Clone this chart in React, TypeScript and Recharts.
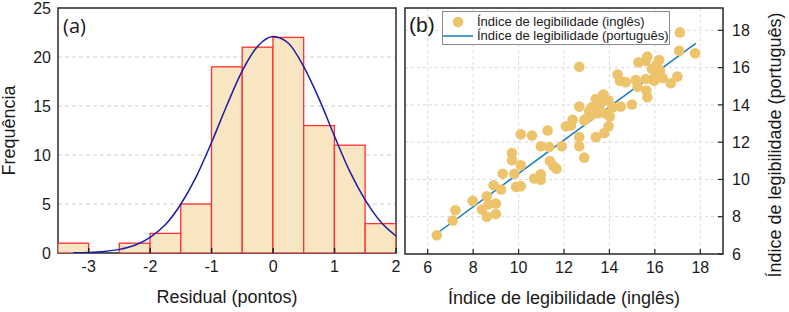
import React from 'react';
import {
  ComposedChart, Bar, Line, XAxis, YAxis, CartesianGrid, ReferenceArea, Scatter, Legend, Label,
} from 'recharts';

// ---------- Panel (a): histogram of residuals ----------
const binCenters = [-3.25, -2.75, -2.25, -1.75, -1.25, -0.75, -0.25, 0.25, 0.75, 1.25, 1.75];
const binCounts = [1, 0, 1, 2, 5, 19, 21, 22, 13, 11, 3];
const curveX = [-3.25, -3, -2.75, -2.5, -2.25, -2, -1.75, -1.5, -1.25, -1, -0.75, -0.5, -0.25, 0, 0.25, 0.5, 0.75, 1, 1.25, 1.5, 1.75, 2];
const curveY = [0.03, 0.06, 0.16, 0.37, 0.79, 1.6, 2.9, 5.0, 7.8, 11.3, 15.1, 18.6, 21.1, 22.1, 21.4, 19.0, 15.7, 11.9, 8.3, 5.4, 3.2, 1.75];
const histXTicks = [-3, -2, -1, 0, 1, 2];
const histYTicks = [0, 5, 10, 15, 20, 25];

// ---------- Panel (b): scatter of readability indices ----------
const engIndex = [
  6.4, 7.1, 7.22, 7.98, 8.39, 8.6, 8.6, 8.68, 9.0, 9.0, 8.9, 9.23, 9.3, 9.71, 9.71, 9.81, 9.89, 10.1, 10.1, 10.1,
  10.59, 10.69, 10.98, 10.98, 10.98, 11.28, 11.35, 11.38, 11.53, 11.67, 11.9, 12.08, 12.38, 12.3, 12.67, 12.67, 12.67, 12.67, 12.89, 12.89,
  13.11, 13.18, 13.4, 13.4, 13.52, 13.73, 13.77, 13.77, 13.85, 13.96, 14.02, 14.14, 14.36, 14.46, 14.5, 14.72, 14.99, 15.16, 15.28, 15.24,
  15.6, 15.6, 15.63, 15.67, 15.67, 15.87, 15.97, 16.19, 16.22, 16.34, 16.7, 16.99, 17.1, 17.07, 17.77, 16.08, 16.04, 13.56, 13.96, 13.23, 12.96,
];
const ptIndex = [
  7.0, 7.8, 8.35, 8.85, 8.39, 9.1, 8.0, 8.67, 8.71, 8.14, 9.69, 9.46, 10.31, 11.42, 11.03, 10.31, 9.6, 9.64, 10.76, 12.42,
  12.36, 10.05, 10.28, 9.99, 11.78, 12.63, 11.74, 10.99, 10.72, 10.58, 11.78, 12.85, 13.2, 12.9, 16.05, 13.91, 12.27, 11.78, 11.17, 13.17,
  13.67, 13.43, 14.32, 12.27, 13.56, 14.56, 14.24, 12.49, 13.52, 12.85, 13.38, 13.88, 15.63, 15.3, 13.91, 15.22, 14.02, 15.34, 16.29, 14.98,
  16.37, 15.39, 14.77, 14.41, 16.59, 15.93, 15.3, 16.41, 15.84, 15.45, 15.16, 15.52, 17.89, 16.91, 16.77, 16.16, 15.57, 13.91, 14.24, 13.88, 13.25,
];
const fitX = [6.4, 17.8];
const fitY = [7.1, 17.3];
const scatXTicks = [6, 8, 10, 12, 14, 16, 18];
const scatYTicks = [6, 8, 10, 12, 14, 16, 18];
const legendLabels = ['Índice de legibilidade (inglês)', 'Índice de legibilidade (português)'];

const histData = binCenters.map((x, i) => ({ x, count: binCounts[i] }));
const curveData = curveX.map((x, i) => ({ x, y: curveY[i] }));
const scatterData = engIndex.map((x, i) => ({ x, y: ptIndex[i] }));
const fitData = fitX.map((x, i) => ({ x, y: fitY[i] }));

const FONT = "'Liberation Sans', Arial, sans-serif";
const tickStyle = { fontSize: 16, fill: '#1a1a1a', fontFamily: FONT };
const SCAT = '#EDC46B';
const FITC = '#1A7DC0';

const HIST_W = 410;
const HIST_MARGIN = { top: 8, right: 14, bottom: 0, left: 8 };
const HIST_YAXIS_W = 50;
const BIN_PX = (HIST_W - HIST_MARGIN.right - HIST_MARGIN.left - HIST_YAXIS_W) / 5.5 * 0.5;

const VTitle = (text: string, dxFrom: 'left' | 'right', off: number, dy: number) => (props: any) => {
  const vb = props.viewBox;
  const cx = dxFrom === 'left' ? vb.x + off : vb.x + vb.width - off;
  const cy = vb.y + vb.height / 2 + dy;
  return (
    <text x={cx} y={cy} transform={`rotate(-90, ${cx}, ${cy})`} textAnchor="middle" dominantBaseline="central"
      style={{ fontSize: 18, fontFamily: FONT, fill: '#1a1a1a' }}>{text}</text>
  );
};
const HTitle = (text: string, cyAbs: number) => (props: any) => {
  const vb = props.viewBox;
  const cx = vb.x + vb.width / 2;
  return (
    <text x={cx} y={cyAbs} textAnchor="middle" dominantBaseline="central"
      style={{ fontSize: 18, fontFamily: FONT, fill: '#1a1a1a' }}>{text}</text>
  );
};

const BinShape = (p: any) => {
  if (!p.height || p.height <= 0) return <g />;
  const cx = p.x + p.width / 2;
  return (
    <rect x={cx - BIN_PX / 2} y={p.y} width={BIN_PX} height={p.height}
      fill="#F8E5C2" stroke="#FF3030" strokeWidth={1.3} />
  );
};

const renderLegend = () => (
  <div style={{ width: 228, height: 34, border: '1px solid #8c8c8c', background: '#fff', boxSizing: 'border-box', position: 'relative', fontFamily: FONT, fontSize: 13, color: '#1a1a1a' }}>
    <svg width={34} height={32} style={{ position: 'absolute', left: 0, top: 0 }}>
      <circle cx={15} cy={10} r={5.3} fill={SCAT} />
      <line x1={0} x2={30} y1={24} y2={24} stroke={FITC} strokeWidth={1.5} />
    </svg>
    <div style={{ position: 'absolute', left: 34, top: 2, lineHeight: '15px', whiteSpace: 'nowrap' }}>{legendLabels[0]}</div>
    <div style={{ position: 'absolute', left: 34, top: 16, lineHeight: '15px', whiteSpace: 'nowrap' }}>{legendLabels[1]}</div>
  </div>
);

export default function App() {
  return (
    <div style={{ position: 'fixed', left: 0, top: 0, width: 789, height: 312, background: '#fff', overflow: 'hidden' }}>
      <div style={{ position: 'absolute', left: 0, top: 0 }}>
        <ComposedChart width={HIST_W} height={312} data={histData} margin={HIST_MARGIN}>
          <CartesianGrid vertical={false} stroke="#cfcfcf" strokeDasharray="4 3" />
          <Bar dataKey="count" fill="#F8E5C2" stroke="#FF3030" shape={BinShape} isAnimationActive={false} />
          <Line data={curveData} dataKey="y" type="monotone" dot={false} stroke="#1C1CA8" strokeWidth={1.5} isAnimationActive={false} />
          <XAxis dataKey="x" type="number" domain={[-3.5, 2]} ticks={histXTicks} allowDataOverflow interval={0}
            height={59} tickSize={-5} tickMargin={13} axisLine={false} tickLine={{ stroke: '#222', strokeWidth: 1.5 }} tick={tickStyle}>
            <Label content={HTitle('Residual (pontos)', 297)} />
          </XAxis>
          <YAxis type="number" domain={[0, 25]} ticks={histYTicks} allowDataOverflow interval={0}
            width={HIST_YAXIS_W} tickSize={0} tickMargin={7} axisLine={false} tickLine={false} tick={tickStyle}>
            <Label content={VTitle('Frequência', 'left', 1, 0)} />
          </YAxis>
          <ReferenceArea x1={-3.5} x2={2} y1={0} y2={25} fill="none" fillOpacity={0} stroke="#2a2a2a" strokeWidth={1.5} ifOverflow="visible" />
        </ComposedChart>
      </div>
      <div style={{ position: 'absolute', left: 400, top: 0 }}>
        <ComposedChart width={389} height={312} margin={{ top: 8, right: 0, bottom: 0, left: 5 }}>
          <CartesianGrid stroke="#d9d9d9" strokeDasharray="3 3" />
          <Scatter data={scatterData} dataKey="y" fill={SCAT} isAnimationActive={false}
            shape={(p: any) => <circle cx={p.cx} cy={p.cy} r={5.3} fill={SCAT} />} />
          <Line data={fitData} dataKey="y" type="linear" dot={false} stroke={FITC} strokeWidth={1.5} isAnimationActive={false} />
          <XAxis dataKey="x" type="number" domain={[5, 19]} ticks={scatXTicks} allowDataOverflow interval={0}
            height={58} tickSize={-5} tickMargin={13} axisLine={false} tickLine={{ stroke: '#222', strokeWidth: 1.2 }} tick={tickStyle}>
            <Label content={HTitle('Índice de legibilidade (inglês)', 298)} />
          </XAxis>
          <YAxis yAxisId={0} dataKey="y" orientation="right" type="number" domain={[6, 19.2]} ticks={scatYTicks} allowDataOverflow interval={0}
            width={66} tickSize={-5} tickMargin={14} axisLine={false} tickLine={{ stroke: '#222', strokeWidth: 1.2 }} tick={{ ...tickStyle, textAnchor: 'start' }}>
            <Label content={VTitle('Índice de legibilidade (português)', 'right', 14, 14)} />
          </YAxis>
          <ReferenceArea x1={5} x2={19} y1={6} y2={19.2} fill="none" fillOpacity={0} stroke="#2a2a2a" strokeWidth={1.5} ifOverflow="visible" />
          <Legend layout="vertical" align="center" verticalAlign="middle" content={renderLegend}
            wrapperStyle={{ position: 'absolute', left: 42, top: 11, width: 228, height: 34 }} />
        </ComposedChart>
      </div>
      <svg width={789} height={312} style={{ position: 'absolute', left: 0, top: 0, pointerEvents: 'none' }}>
        <text x={63} y={33} style={{ fontSize: 20, fontFamily: "'Open Sans', sans-serif", fill: '#1a1a1a' }}>(a)</text>
        <text x={409} y={32} style={{ fontSize: 21, fontFamily: FONT, fill: '#1a1a1a' }}>(b)</text>
      </svg>
    </div>
  );
}
